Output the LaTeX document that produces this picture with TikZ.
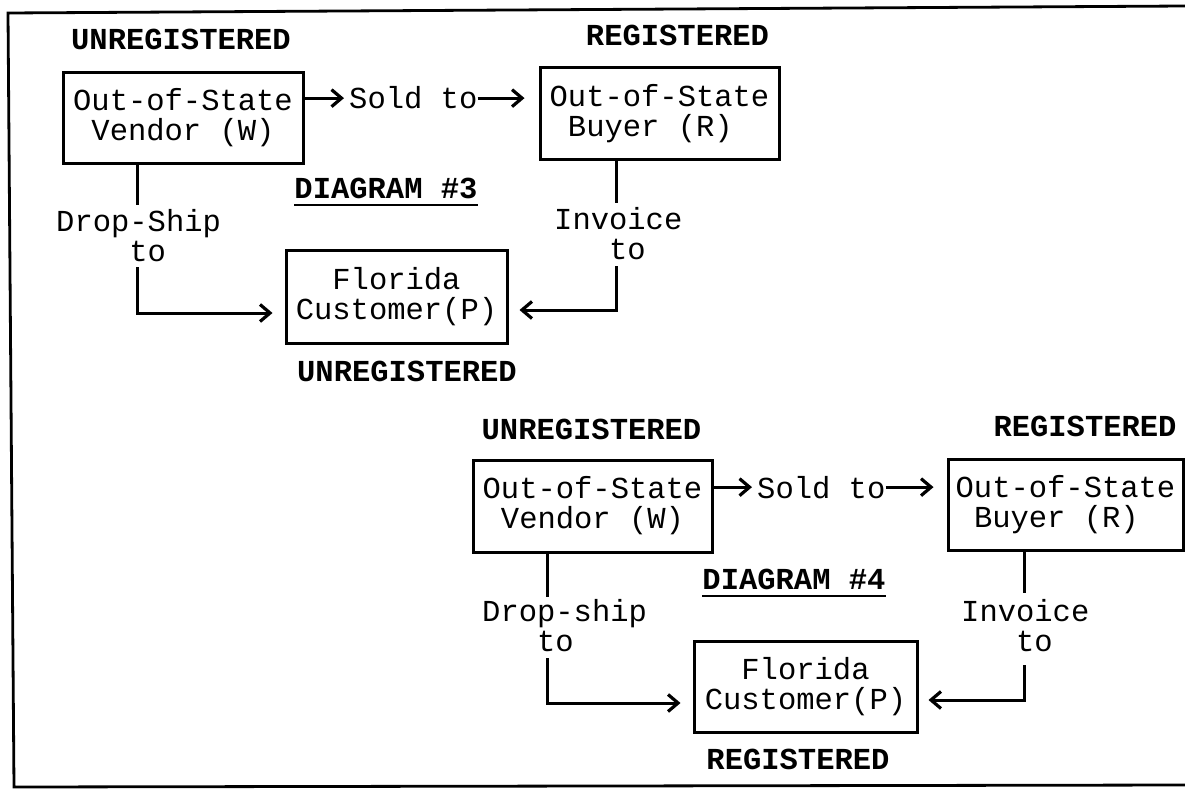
\documentclass[tikz,border=0pt]{standalone}
\usepackage{fontspec}
\setmainfont{Liberation Mono}
\usetikzlibrary{arrows.meta}
\begin{document}
\begin{tikzpicture}[x=1pt,y=-1pt,
  every node/.style={inner sep=0pt, font=\fontsize{30.5}{30}\selectfont},
  line/.style={line width=3pt},
  conn/.style={line width=3pt, -{Straight Barb[length=10pt,width=17pt,line width=3.2pt]}},
  box/.style={draw, line width=3pt, align=left},
  lab/.style={anchor=base, font=\fontsize{30.5}{30}\selectfont\bfseries},
  txt/.style={align=left},
  frame/.style={line width=2.8pt},
  uline/.style={line width=2.2pt}]
\fill[white] (0,0) rectangle (1185,789);
\path[use as bounding box] (0,0) rectangle (1185,789);
% frame
\draw[frame] (1185,6) -- (8,13) -- (14,787) -- (1185,785);

% ---------- Diagram 3 ----------
\node[box, minimum width=240pt, minimum height=90pt] (v3) at (183,118) {Out-of-State\\\phantom{x}Vendor (W)};
\node[box, minimum width=239pt, minimum height=91pt] (b3) at (659.5,113.5) {Out-of-State\\\phantom{x}Buyer (R)};
\node[box, minimum width=221pt, minimum height=93pt] (f3) at (396.5,296.5) {\phantom{xx}Florida\\Customer(P)};
\node[lab] (u3) at (181,50) {UNREGISTERED};
\node[lab] (r3) at (677.5,46) {REGISTERED};
\node[lab] (u3b) at (407,381) {UNREGISTERED};
\node[lab] (d3) at (386,198) {DIAGRAM \#3};
\draw[uline] ([yshift=-7pt]d3.base west) -- ([yshift=-7pt]d3.base east);
\node[anchor=base west] (s3) at (349,109) {Sold to};
\node[txt, anchor=north west] (ds3) at (56,209) {Drop-Ship\\\phantom{xxxx}to};
\node[txt, anchor=north west] (iv3) at (554,207) {Invoice\\\phantom{xxx}to};

\draw[conn, shorten >=5pt] (v3.east |- s3.west) -- (s3.west);
\draw[conn, shorten >=14pt] (s3.east) -- (s3.east -| b3.west);

\coordinate (a3) at (137,205);
\coordinate (a3b) at (137,267);
\coordinate (a3c) at (137,313);
\draw[line] (v3.south -| a3) -- (a3);
\draw[conn, shorten >=12pt] (a3b) -- (a3c) -- (a3c -| f3.west);

\coordinate (i3) at (616,203);
\coordinate (i3b) at (616,266);
\coordinate (i3c) at (616,310);
\draw[line] (b3.south -| i3) -- (i3);
\draw[conn, shorten >=11pt] (i3b) -- (i3c) -- (i3c -| f3.east);

% ---------- Diagram 4 ----------
\node[box, minimum width=239pt, minimum height=92pt] (v4) at (592.5,506) {Out-of-State\\\phantom{x}Vendor (W)};
\node[box, minimum width=235pt, minimum height=91pt] (b4) at (1065.5,504.5) {Out-of-State\\\phantom{x}Buyer (R)};
\node[box, minimum width=223pt, minimum height=91pt] (f4) at (805.5,686.5) {\phantom{xx}Florida\\Customer(P)};
\node[lab] (u4) at (591.5,439) {UNREGISTERED};
\node[lab] (r4) at (1085,436) {REGISTERED};
\node[lab] (d4) at (794,589) {DIAGRAM \#4};
\draw[uline] ([yshift=-7pt]d4.base west) -- ([yshift=-7pt]d4.base east);
\node[lab] (r4b) at (798,769) {REGISTERED};
\node[anchor=base west] (s4) at (757,498) {Sold to};
\node[txt, anchor=north west] (ds4) at (482,599) {Drop-ship\\\phantom{xxx}to};
\node[txt, anchor=north west] (iv4) at (961,599) {Invoice\\\phantom{xxx}to};

\draw[conn, shorten >=5pt] (v4.east |- s4.west) -- (s4.west);
\draw[conn, shorten >=13pt] (s4.east) -- (s4.east -| b4.west);

\coordinate (a4) at (547,597);
\coordinate (a4b) at (547,658);
\coordinate (a4c) at (547,703);
\draw[line] (v4.south -| a4) -- (a4);
\draw[conn, shorten >=12pt] (a4b) -- (a4c) -- (a4c -| f4.west);

\coordinate (i4) at (1024,593);
\coordinate (i4b) at (1024,665);
\coordinate (i4c) at (1024,700);
\draw[line] (b4.south -| i4) -- (i4);
\draw[conn, shorten >=10pt] (i4b) -- (i4c) -- (i4c -| f4.east);
\end{tikzpicture}
\end{document}
